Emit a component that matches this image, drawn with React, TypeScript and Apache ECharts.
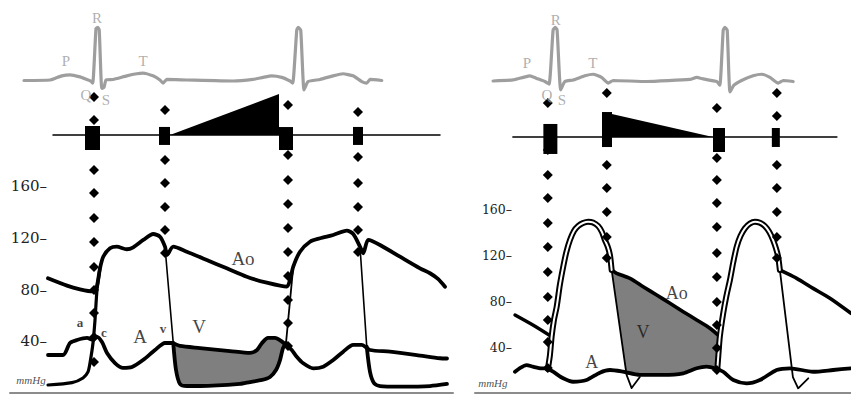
import React, { useEffect, useRef } from "react";
import * as echarts from "echarts";

type P = [number, number];

// ===== Left panel: time (ms), pressure (mmHg), ECG (mV) =====
const L_ECG: P[] = [[-96,-0.01],[8,0],[28,0.03],[55,0.08],[88,0.1],[128,0.06],[155,0.01],[171,-0.02],[179,-0.06],[192,0.99],[199,1.01],[205,0.96],[215,-0.16],[224,-0.14],[232,0],[260,0.01],[315,0.08],[355,0.12],[380,0.13],[420,0.08],[448,0],[460,-0.06],[475,0.01],[555,0],[740,-0.02],[820,0.01],[860,0.05],[895,0.08],[935,0.05],[968,-0.02],[979,-0.06],[995,0.96],[1001,1.01],[1011,0.96],[1024,-0.19],[1040,-0.03],[1088,0.01],[1140,0.08],[1180,0.12],[1220,0.08],[1255,-0.03],[1275,-0.06],[1288,0.01],[1335,-0.01]];
const L_AO: P[] = [[0,88.8],[76,83.1],[128,80.3],[180,78.6],[195,82.3],[208,96.5],[221,105.5],[248,112],[275,113.3],[315,111.3],[341,112.8],[381,118.5],[421,123.1],[448,121],[468,113.3],[476,106.8],[501,113.3],[555,109.4],[635,103],[715,96.5],[795,90],[875,85.4],[955,82.3],[968,87.5],[981,97.8],[1008,109.4],[1048,117.1],[1088,119.8],[1141,122.3],[1195,125.7],[1221,123.1],[1248,113.3],[1261,108.2],[1281,118.5],[1328,114.6],[1408,105.5],[1488,96.5],[1528,92.7],[1560,88.3],[1588,82.3]];
const L_A: P[] = [[0,29.4],[60,29.4],[88,38.7],[116,41],[156,42.6],[180,41],[196,43.5],[216,39.5],[236,31],[268,23.2],[300,19.4],[336,20.1],[380,25.5],[428,33.3],[468,38.7],[496,38.7],[528,36.4],[608,34.8],[728,32.5],[808,31],[836,33.3],[856,38.7],[880,42.6],[908,42.6],[932,40.3],[956,36.4],[975,33.3],[995,28.1],[1021,23],[1061,19.1],[1101,20.4],[1141,25.5],[1181,32],[1221,37.2],[1255,37.2],[1288,33.3],[1368,32],[1475,29.4],[1568,26.9],[1596,26.7]];
const L_V_DIA1: P[] = [[0,6.2],[96,8],[140,11.6],[160,16.3],[168,23.2],[180,38.7],[188,56.5],[196,79.7],[208,96.5]];
const L_V_DROP1: P[] = [[468,113.3],[501,38.7]];
const L_V_DIA2: P[] = [[501,38.7],[512,17.8],[528,7],[556,5.4],[608,5.4],[768,7],[808,8.5],[856,10.1],[888,12.4],[912,17.8],[928,25.5],[940,34.8],[952,38.7]];
const L_V_RISE2: P[] = [[952,38.7],[981,97.8]];
const L_V_DROP2: P[] = [[1248,113.3],[1275,35.8]];
const L_V_DIA3: P[] = [[1275,35.8],[1288,16.3],[1304,7.7],[1328,5.4],[1408,5],[1528,5.4],[1596,7]];
const L_TIMELINE: P[] = [[20,199.7],[1568,199.7]];
const L_RAMP: P[] = [[488,199.7],[924,231.5],[924,199.7]];
const L_EVENTS: P[] = [[178,197.4],[466,199],[952,197],[1240,199]];
const L_DOT_TIMES = [184, 468, 960, 1240];
const L_DOT_LEVELS = [
  [229.2, 211.4, 172.6, 154.8, 135.5, 116.9, 97.5, 79.7, 61.9, 43.4, 24],
  [219.1, 180.4, 162.6, 144, 126.2, 108.4],
  [223, 184.3, 164.9, 146.3, 127.7, 109.2, 90.6, 72, 54.2, 36.4],
  [217.5, 182.7, 162.6, 144, 126.2, 109.2],
];
const L_ECG_LABELS = [
  { text: "P", t: 72, v: 0.37 }, { text: "R", t: 196, v: 1.19 }, { text: "T", t: 380, v: 0.37 },
  { text: "Q", t: 152, v: -0.29 }, { text: "S", t: 232, v: -0.38 },
];
const L_BIG_LABELS = [
  { text: "Ao", t: 780, v: 104.5 }, { text: "V", t: 604, v: 51.3 }, { text: "A", t: 368, v: 43.6 },
];
const L_SMALL_LABELS = [
  { text: "a", t: 128, v: 54.2 }, { text: "c", t: 224, v: 46.5 }, { text: "v", t: 460, v: 50.3 },
];

// ===== Right panel =====
const R_ECG: P[] = [[-94,0],[1,0.02],[49,0.07],[81,0.1],[113,0.05],[152,-0.01],[172,-0.06],[191,0.98],[201,1.03],[210,0.98],[227,-0.17],[247,-0.01],[286,0.02],[342,0.1],[381,0.13],[421,0.07],[453,-0.04],[476,0.01],[635,-0.01],[841,0.03],[873,0.07],[904,0.04],[968,-0.01],[983,-0.08],[999,0.98],[1007,1.03],[1018,0.98],[1031,-0.21],[1050,-0.08],[1086,0.01],[1141,0.1],[1181,0.13],[1221,0.07],[1260,-0.04],[1284,0.01],[1331,-0.01]];
const R_AO1: P[] = [[10,67.8],[95,59.1],[184,49]];
const R_SYS1: P[] = [[166,20.9],[176,33],[184,49],[195,63.5],[208,75],[223,93.9],[239,109.8],[254,122.6],[271,133],[290,140.9],[310,145.2],[333,147.8],[358,149],[380,148.3],[405,145.2],[423,140],[437,133],[451,127],[461,120],[469,107]];
const R_AO2: P[] = [[469,107],[493,104.1],[556,99.7],[619,92.4],[683,85.2],[746,78],[809,70.7],[873,63.5],[936,56.3],[983,49]];
const R_SYS2: P[] = [[971,20.9],[976,33],[983,49],[999,69.3],[1014,84.3],[1031,98.3],[1047,113.9],[1063,127.2],[1081,136.5],[1102,143.2],[1126,147.4],[1150,149],[1173,148.1],[1197,145.2],[1218,140],[1236,133],[1249,126.1],[1260,118.5],[1268,107]];
const R_AO3: P[] = [[1268,107],[1284,105.5],[1348,99.7],[1426,91],[1506,82.4],[1606,69.3]];
const R_A: P[] = [[10,18.5],[33,21.7],[65,24.3],[95,22.9],[136,21.5],[160,21.5],[191,18.5],[239,12.8],[286,9.8],[350,11.3],[413,17.7],[461,20],[523,18.5],[603,15.7],[714,15.7],[809,17.1],[873,21.5],[920,22.9],[968,20.9],[999,18.5],[1047,11.3],[1110,8.4],[1173,11.3],[1253,20],[1316,21.5],[1426,18.5],[1521,20],[1606,21.5]];
const R_V_DROP1: P[] = [[469,107],[540,15.7],[564,4.3],[603,13.9]];
const R_V_DROP2: P[] = [[1268,107],[1330,13.9],[1355,4.1],[1403,12.8]];
const R_TIMELINE: P[] = [[0,222.6],[1539,222.6]];
const R_RAMP: P[] = [[428,244.3],[950,222.6],[428,222.6]];
const R_EVENTS: P[] = [[178,220.9],[447,229.1],[979,220],[1249,222.2]];
const R_DOT_TIMES = [166, 446, 969, 1254];
const R_DOT_LEVELS = [
  [252.2, 211.3, 189.6, 169.6, 147.8, 127, 105.2, 83.5, 63.5, 44.3, 21.7],
  [260.9, 198.3, 178.3, 157.4, 135.7, 117.4],
  [247.8, 204.4, 185.2, 165.2, 144.3, 121.7, 100.9, 79.1, 59.1, 39.1, 20],
  [260.9, 240.9, 198.3, 178.3, 157.4, 135.7, 117.4],
];
const R_ECG_LABELS = [
  { text: "P", t: 67, v: 0.35 }, { text: "R", t: 204, v: 1.17 }, { text: "T", t: 380, v: 0.35 },
  { text: "Q", t: 162, v: -0.27 }, { text: "S", t: 233, v: -0.37 },
];
const R_BIG_LABELS = [
  { text: "Ao", t: 778, v: 87.2 }, { text: "V", t: 618, v: 53.3 }, { text: "A", t: 374, v: 27.2 },
];
const UNIT_LABEL = "mmHg";
const L_UNIT_POS: P = [-68, 10];
const R_UNIT_POS: P = [-95, 8.7];

// ===== styles =====
const L_EVENT_SIZES = [[15, 24], [11, 18], [14, 23], [10, 18]];
const R_EVENT_SIZES = [[14, 30], [10, 35], [12, 24], [8, 19]];
const SERIF = "'Liberation Serif', 'DejaVu Serif', serif";

function line(data: P[], xi: number, yi: number, width: number, color = "#000", z = 3, smooth: number | boolean = 0.25) {
  return {
    type: "line", data, xAxisIndex: xi, yAxisIndex: yi, symbol: "none", smooth,
    lineStyle: { width, color, cap: "round", join: "round", opacity: 1 }, z, silent: true, clip: false,
  };
}
function poly(pts: P[], xi: number, yi: number, fill: string, z = 1) {
  return {
    type: "custom", xAxisIndex: xi, yAxisIndex: yi, data: [[0, 0]], z, silent: true, clip: false,
    renderItem: (_p: any, api: any) => ({
      type: "polygon",
      shape: { points: pts.map((q) => api.coord(q)) },
      style: { fill },
    }),
  };
}
function dots(times: number[], levels: number[][], xi: number, yi: number) {
  const data: P[] = [];
  times.forEach((t, i) => levels[i].forEach((v) => data.push([t, v])));
  return {
    type: "scatter", data, xAxisIndex: xi, yAxisIndex: yi, symbol: "diamond", symbolSize: [10, 10],
    itemStyle: { color: "#000", opacity: 1 }, z: 5, silent: true,
  };
}
function blocks(pts: P[], sizes: number[][], xi: number, yi: number) {
  return {
    type: "scatter", xAxisIndex: xi, yAxisIndex: yi, symbol: "rect", z: 5, silent: true,
    itemStyle: { color: "#000", opacity: 1 },
    data: pts.map((p, i) => ({ value: p, symbolSize: sizes[i] })),
  };
}
function texts(items: { text: string; t: number; v: number }[], xi: number, yi: number, fontSize: number, color: string, fontWeight: any = "normal", fontStyle = "normal") {
  return {
    type: "scatter", xAxisIndex: xi, yAxisIndex: yi, symbolSize: 1, z: 6, silent: true,
    itemStyle: { color: "rgba(0,0,0,0)" },
    label: { show: true, position: "inside", formatter: "{b}", fontSize, color, fontWeight, fontStyle, fontFamily: SERIF },
    data: items.map((d) => ({ name: d.text, value: [d.t, d.v] })),
  };
}
function pAxis(gridIndex: number, max: number, fontSize: number) {
  return {
    gridIndex, type: "value", min: 0, max, interval: 40, offset: -38,
    axisLine: { show: false }, axisTick: { show: false }, splitLine: { show: false },
    axisLabel: {
      showMinLabel: false, showMaxLabel: false, margin: 1, color: "#222", fontSize,
      fontFamily: "'DejaVu Serif', serif",
      formatter: (v: number) => (v >= 40 && v <= 160 ? `${v}–` : ""),
    },
  };
}
function xAx(gridIndex: number, min: number, max: number) {
  return {
    gridIndex, type: "value", min, max,
    axisLine: { show: true, onZero: false, lineStyle: { color: "#8c8c8c", width: 2 } },
    axisTick: { show: false }, axisLabel: { show: false }, splitLine: { show: false },
  };
}
const hidden = (gridIndex: number, min: number, max: number) => ({ gridIndex, type: "value", min, max, show: false });

export default function App() {
  const ref = useRef<HTMLDivElement>(null);
  useEffect(() => {
    if (!ref.current) return;
    const chart = echarts.init(ref.current, null, { renderer: "svg" });
    const lGray: P[] = [...L_A.filter((p) => p[0] >= 496 && p[0] <= 956), ...[...L_V_DIA2].reverse()];
    const rGray: P[] = [...R_AO2, ...R_A.filter((p) => p[0] > 540 && p[0] <= 975).reverse(), [540, 15.7]];
    const ecgColor = "#9e9e9e";
    const option: any = {
      animation: false,
      backgroundColor: "#fff",
      grid: [
        { left: 10, top: 0, width: 443, height: 393 },
        { left: 475, top: 0, width: 376, height: 393 },
      ],
      xAxis: [xAx(0, -152, 1620), xAx(1, -180, 1606)],
      yAxis: [
        pAxis(0, 304.25, 15),
        hidden(0, -6.019, 1.538),
        pAxis(1, 341.74, 12.5),
        hidden(1, -6.0, 1.5577),
      ],
      series: [
        poly(lGray, 0, 0, "#7f7f7f"),
        poly(rGray, 1, 2, "#7f7f7f"),
        poly(L_RAMP, 0, 0, "#000", 2),
        poly(R_RAMP, 1, 2, "#000", 2),
        line(L_TIMELINE, 0, 0, 1.5, "#000", 2, false),
        line(R_TIMELINE, 1, 2, 1.5, "#000", 2, false),
        line(L_ECG, 0, 1, 3.2, ecgColor, 2, 0.15),
        line(R_ECG, 1, 3, 3.2, ecgColor, 2, 0.15),
        // left pressures
        line(L_AO, 0, 0, 3.8),
        line(L_A, 0, 0, 3.8),
        line(L_V_DIA1, 0, 0, 3.2),
        line(L_V_DROP1, 0, 0, 1.6, "#000", 3, false),
        line(L_V_DIA2, 0, 0, 3.8),
        line(L_V_RISE2, 0, 0, 1.8, "#000", 3, false),
        line(L_V_DROP2, 0, 0, 1.6, "#000", 3, false),
        line(L_V_DIA3, 0, 0, 3.8),
        // right pressures
        line(R_AO1, 1, 2, 3.4),
        line(R_AO2, 1, 2, 3.6),
        line(R_AO3, 1, 2, 3.6),
        line(R_A, 1, 2, 3.8),
        line(R_V_DROP1, 1, 2, 1.8, "#000", 3, false),
        line(R_V_DROP2, 1, 2, 1.8, "#000", 3, false),
        line(R_SYS1, 1, 2, 6, "#000", 3),
        line(R_SYS1, 1, 2, 2, "#fff", 4),
        line(R_SYS2, 1, 2, 6, "#000", 3),
        line(R_SYS2, 1, 2, 2, "#fff", 4),
        // event markers
        blocks(L_EVENTS, L_EVENT_SIZES, 0, 0),
        blocks(R_EVENTS, R_EVENT_SIZES, 1, 2),
        dots(L_DOT_TIMES, L_DOT_LEVELS, 0, 0),
        dots(R_DOT_TIMES, R_DOT_LEVELS, 1, 2),
        // labels
        texts(L_ECG_LABELS, 0, 1, 15, "#9a9a9a"),
        texts(R_ECG_LABELS, 1, 3, 15, "#9a9a9a"),
        texts(L_BIG_LABELS, 0, 0, 19, "#111"),
        texts(R_BIG_LABELS, 1, 2, 18, "#111"),
        texts(L_SMALL_LABELS, 0, 0, 13, "#111", "bold"),
        texts([{ text: UNIT_LABEL, t: L_UNIT_POS[0], v: L_UNIT_POS[1] }], 0, 0, 11, "#222", "normal", "italic"),
        texts([{ text: UNIT_LABEL, t: R_UNIT_POS[0], v: R_UNIT_POS[1] }], 1, 2, 11, "#222", "normal", "italic"),
      ],
    };
    chart.setOption(option);
    return () => chart.dispose();
  }, []);
  return (
    <div
      ref={ref}
      style={{ position: "fixed", left: 0, top: 0, width: 851, height: 394, background: "#fff" }}
    />
  );
}
